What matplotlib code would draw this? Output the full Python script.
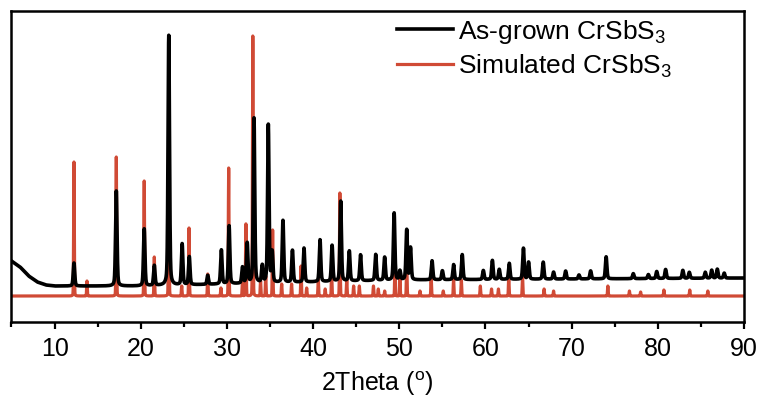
import numpy as np
import matplotlib.pyplot as plt

plt.rcParams['font.family'] = ['Liberation Sans', 'DejaVu Sans']
plt.rcParams['mathtext.fontset'] = 'custom'
plt.rcParams['mathtext.rm'] = 'Liberation Sans'
plt.rcParams['mathtext.it'] = 'Liberation Sans'

# ---------------- data ----------------
# as-grown pattern: peak positions (2theta, deg) and heights above background
grown_pos = [12.25, 17.16, 20.40, 21.57, 23.25, 24.80, 25.63, 27.77, 29.35, 30.25,
             31.80, 32.35, 33.14, 34.10, 34.80, 35.25, 36.50, 37.60, 38.94, 40.80,
             42.20, 43.20, 44.20, 45.50, 47.26, 48.30, 49.40, 50.07, 50.86, 51.30,
             53.80, 55.00, 56.30, 57.30, 59.75, 60.80, 61.60, 62.76, 64.40, 65.00,
             66.70, 67.90, 69.30, 70.85, 72.20, 74.00, 77.15, 78.90, 79.87, 80.90,
             82.90, 83.65, 85.50, 86.25, 86.90, 87.70]
grown_int = [23, 95, 57, 20, 250, 41, 28, 9, 34, 58,
             16, 40, 165, 17, 158, 30, 62, 32, 34, 42,
             36, 80, 30, 26, 26, 23, 67, 9, 50, 32,
             19, 9, 15, 25, 9, 19, 10, 16, 31, 17,
             17, 7, 8, 4, 8, 22, 5, 4, 7, 9,
             8, 6, 6, 8, 9, 5]
# background of the as-grown pattern (2theta, level)
bg_pos = [5, 6, 7, 8, 9, 10, 20, 30, 50, 90]
bg_val = [61, 55, 46, 40, 37, 36, 36, 38, 42, 44]

# simulated pattern
sim_pos = [12.25, 13.76, 17.16, 20.40, 21.57, 23.25, 24.75, 25.60, 27.77, 29.30,
           30.20, 31.80, 32.20, 33.00, 33.90, 34.50, 35.30, 36.35, 37.50, 38.60,
           39.25, 40.60, 41.40, 42.15, 43.10, 43.90, 44.70, 45.36, 47.00, 47.56,
           48.30, 49.50, 50.07, 50.86, 52.40, 53.70, 55.10, 56.30, 57.20, 59.40,
           60.70, 61.50, 62.70, 64.30, 66.80, 67.90, 74.20, 76.70, 78.00, 80.70,
           83.70, 85.80]
sim_int = [134, 15, 139, 115, 39, 180, 10, 68, 22, 8,
           128, 14, 72, 260, 15, 20, 66, 12, 12, 30,
           8, 17, 7, 24, 103, 17, 10, 10, 10, 7,
           5, 34, 17, 37, 5, 19, 5, 17, 16, 10,
           7, 7, 19, 20, 7, 5, 10, 5, 4, 6,
           6, 5]
sim_base = 26

x_ticks = [10, 20, 30, 40, 50, 60, 70, 80, 90]


# ---------------- build profiles ----------------
tt = np.linspace(5, 90, 8501)


def profile(pos, amp, fwhm, eta):
    # pseudo-Voigt sum of peaks
    y = np.zeros_like(tt)
    for p, a in zip(pos, amp):
        d = (tt - p) / (fwhm / 2)
        g = np.exp(-np.log(2) * d ** 2)
        l = 1 / (1 + d ** 2)
        y += a * (eta * l + (1 - eta) * g)
    return y


grown = np.interp(tt, bg_pos, bg_val) + profile(grown_pos, grown_int, 0.2, 0.35)
sim = sim_base + profile(sim_pos, sim_int, 0.09, 0.1)

# ---------------- plot ----------------
fig = plt.figure(figsize=(7.61, 4.02), dpi=100)
ax = fig.add_axes([0.0151, 0.1965, 0.9626, 0.7735])

ax.plot(tt, sim, color='#D04A35', lw=2.3, label='Simulated CrSbS$_3$', zorder=2)
ax.plot(tt, grown, color='black', lw=2.6, label='As-grown CrSbS$_3$', zorder=3)

ax.set_xlim(5, 90)
ax.set_ylim(0, 311)
ax.set_yticks([])
ax.set_xticks(x_ticks)
ax.set_xticks(np.arange(5, 91, 10), minor=True)
ax.tick_params(axis='x', which='major', direction='out', length=5, width=1.6,
               labelsize=18, pad=5)
ax.tick_params(axis='x', which='minor', direction='out', length=3.5, width=1.6)
for s in ax.spines.values():
    s.set_linewidth(1.8)

ax.set_xlabel('2Theta ($^{\\mathrm{o}}$)', fontsize=18, labelpad=6)

h, lab = ax.get_legend_handles_labels()
ax.legend(h[::-1], lab[::-1], loc='upper left', bbox_to_anchor=(0.494, 1.056),
          frameon=False, fontsize=19, handlelength=2.1, handletextpad=0.2,
          labelspacing=0.25)

fig.savefig('out.png', dpi=100)
